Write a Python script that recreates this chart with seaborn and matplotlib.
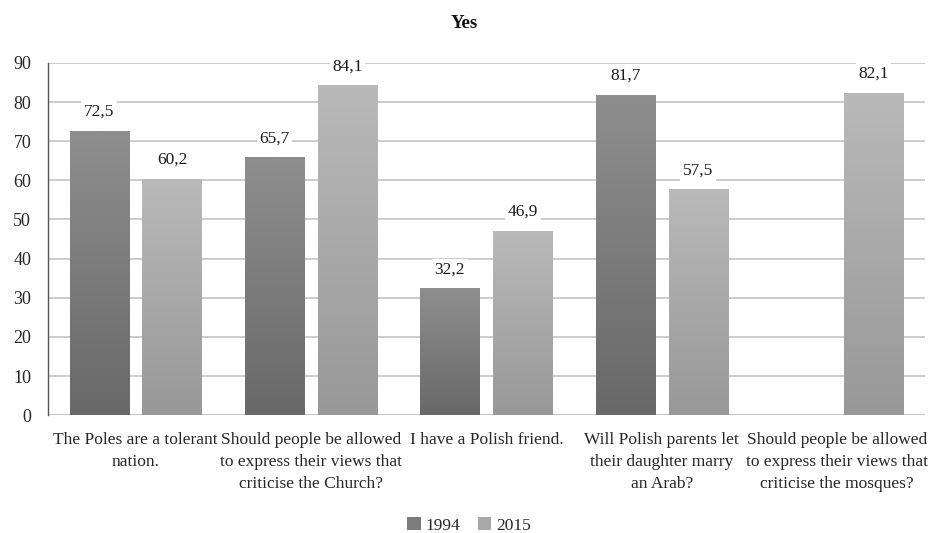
import numpy as np
import pandas as pd
import matplotlib
matplotlib.use("Agg")
import matplotlib.pyplot as plt
from matplotlib.patches import Patch
import seaborn as sns

categories = [
    "The Poles are a tolerant\nnation.",
    "Should people be allowed\nto express their views that\ncriticise the Church?",
    "I have a Polish friend.",
    "Will Polish parents let\ntheir daughter marry\nan Arab?",
    "Should people be allowed\nto express their views that\ncriticise the mosques?",
]
years = ["1994", "2015"]
values_1994 = [72.5, 65.7, 32.2, 81.7, np.nan]
values_2015 = [60.2, 84.1, 46.9, 57.5, 82.1]

# gradient end colours (top, bottom) for each series
grad = {"1994": ("#8e8e8e", "#696969"), "2015": ("#b9b9b9", "#989898")}

df = pd.DataFrame({
    "category": categories * 2,
    "year": [years[0]] * 5 + [years[1]] * 5,
    "value": values_1994 + values_2015,
})

sns.set_theme(style="white")
plt.rcParams["font.family"] = ["Liberation Serif", "DejaVu Serif"]

fig = plt.figure(figsize=(9.29, 5.33), dpi=100)
ax = fig.add_axes([0.0515, 0.221, 0.944, 0.661])

sns.barplot(data=df, x="category", y="value", hue="year", order=categories,
            hue_order=years, palette=[grad["1994"][1], grad["2015"][1]],
            width=0.832, gap=0.19, legend=False, ax=ax, zorder=2)

ax.set_ylim(0, 90)
ax.set_xlim(-0.5, 4.5)
ax.set_yticks(range(0, 91, 10))
ax.yaxis.grid(True, color="#c4c4c4", linewidth=1.2, zorder=0)
ax.set_axisbelow(True)
for s in ["top", "right", "bottom"]:
    ax.spines[s].set_visible(False)
ax.spines["left"].set_color("#555555")
ax.spines["left"].set_linewidth(1.0)
ax.tick_params(axis="y", length=0, pad=12, labelsize=13)
ax.tick_params(axis="x", length=0, pad=12, labelsize=12.5)
for lbl in ax.get_xticklabels():
    lbl.set_linespacing(1.5)
ax.set_xlabel("")
ax.set_ylabel("")

# replace flat fills with vertical gradients
for container, yr in zip(ax.containers, years):
    top, bot = grad[yr]
    cmap = matplotlib.colors.LinearSegmentedColormap.from_list(yr, [bot, top])
    for bar, val in zip(container.patches, container.datavalues):
        if np.isnan(val) or bar.get_height() == 0:
            continue
        x0 = bar.get_x()
        w = bar.get_width()
        h = bar.get_height()
        bar.set_facecolor("none")
        bar.set_edgecolor("none")
        g = np.linspace(0, 1, 256).reshape(-1, 1)
        ax.imshow(g, cmap=cmap, origin="lower", aspect="auto",
                  extent=(x0, x0 + w, 0, h), zorder=2, interpolation="bilinear")
        ax.text(x0 + w / 2, h + 3.0, f"{val:.1f}".replace(".", ","),
                ha="center", va="bottom", fontsize=12.5, color="#1a1a1a",
                zorder=3,
                bbox=dict(boxstyle="square,pad=0.15", fc="white", ec="none"))

ax.set_xlim(-0.5, 4.5)
ax.set_ylim(0, 90)
# bottom gridline at zero
ax.axhline(0, color="#c4c4c4", linewidth=1.2, zorder=1)

fig.text(0.5, 0.955, "Yes", ha="center", va="center", fontsize=13.5,
         fontweight="bold", color="#111111")

handles = [Patch(facecolor="#7c7c7c", edgecolor="none"),
           Patch(facecolor="#a8a8a8", edgecolor="none")]
fig.legend(handles, years, loc="center", bbox_to_anchor=(0.505, 0.014),
           ncol=2, frameon=False, fontsize=12.5, handlelength=0.75,
           handleheight=0.75, handletextpad=0.3, columnspacing=1.0)

fig.savefig("out.png", dpi=100)
